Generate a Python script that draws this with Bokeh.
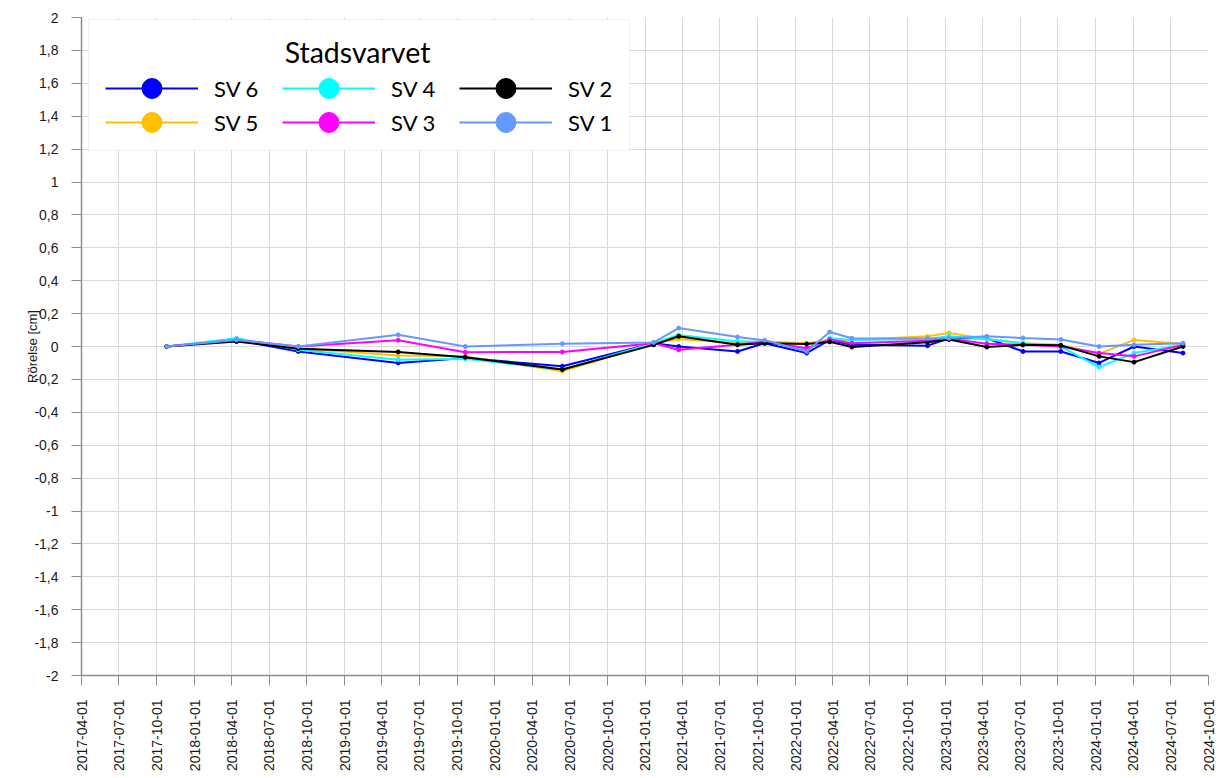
import calendar
import datetime as dt
import math

from bokeh.plotting import figure
from bokeh.models import (ColumnDataSource, Range1d, FixedTicker, DatetimeTickFormatter,
                          CustomJSTickFormatter, Legend, LegendItem, BoxAnnotation, Label)
from bokeh.embed import file_html
from bokeh.resources import INLINE

# ---------------- data ----------------
dates = ["2017-10-25", "2018-04-13", "2018-09-10", "2019-05-11", "2019-10-21",
         "2020-06-13", "2021-01-21", "2021-03-23", "2021-08-13", "2021-10-18",
         "2022-01-28", "2022-03-25", "2022-05-18", "2022-11-18", "2023-01-09",
         "2023-04-11", "2023-07-08", "2023-10-08", "2024-01-09", "2024-04-03",
         "2024-07-31"]

sv6 = [0, 0.04, -0.03, -0.10, -0.07, -0.12, 0.02, 0.00, -0.03, 0.02, -0.04,
       0.04, 0.01, 0.005, 0.05, 0.05, -0.03, -0.03, -0.10, 0.00, -0.04]
sv5 = [0, 0.04, -0.01, -0.055, -0.06, -0.15, 0.02, 0.045, 0.02, 0.03, 0.02,
       0.04, 0.04, 0.062, 0.082, 0.045, 0.02, 0.01, -0.045, 0.04, 0.015]
sv4 = [0, 0.05, -0.02, -0.08, -0.075, -0.14, 0.02, 0.07, 0.03, 0.03, -0.02,
       0.05, 0.04, 0.045, 0.062, 0.045, 0.02, 0.0, -0.125, -0.04, 0.01]
sv3 = [0, 0.04, 0.0, 0.038, -0.035, -0.033, 0.02, -0.02, 0.01, 0.03, -0.01,
       0.042, 0.02, 0.035, 0.047, 0.017, 0.01, 0.0, -0.04, -0.06, 0.01]
sv2 = [0, 0.03, -0.013, -0.033, -0.065, -0.14, 0.01, 0.062, 0.01, 0.02, 0.015,
       0.028, -0.003, 0.026, 0.042, -0.003, 0.01, 0.007, -0.06, -0.095, 0.0]
sv1 = [0, 0.04, 0.0, 0.071, 0.0, 0.017, 0.025, 0.112, 0.058, 0.038, -0.03,
       0.088, 0.05, 0.048, 0.05, 0.062, 0.052, 0.042, 0.0, 0.01, 0.02]

series_names = ["SV 6", "SV 5", "SV 4", "SV 3", "SV 2", "SV 1"]
series_values = [sv6, sv5, sv4, sv3, sv2, sv1]
series_colors = ["#0000FF", "#FFC000", "#00FFFF", "#FF00FF", "#000000", "#6699FF"]
legend_row1 = ["SV 6", "SV 4", "SV 2"]
legend_row2 = ["SV 5", "SV 3", "SV 1"]

legend_title = "Stadsvarvet"
y_label = "Rörelse [cm]"
x_start = "2017-04-01"
x_end = "2024-10-01"
y_start, y_end, y_step = -2.0, 2.0, 0.2


def to_ms(s):
    d = dt.datetime.strptime(s, "%Y-%m-%d")
    return calendar.timegm(d.timetuple()) * 1000.0


# quarterly tick dates
x_tick_labels = []
yy, mm = 2017, 4
while (yy, mm) <= (2024, 10):
    x_tick_labels.append(f"{yy:04d}-{mm:02d}-01")
    mm += 3
    if mm > 12:
        mm -= 12
        yy += 1
x_ticks = [to_ms(s) for s in x_tick_labels]
n_y = int(round((y_end - y_start) / y_step))
y_ticks = [round(y_start + i * y_step, 1) for i in range(n_y + 1)]

# ---------------- layout ----------------
W, H = 1215, 776
ML, MT = 81, 17
FR, FB = 1208, 675            # frame right / bottom (page px)
MR, MB = W - FR, H - FB
frame_w = W - ML - MR
frame_h = H - MT - MB
x0, x1 = to_ms(x_start), to_ms(x_end)


def px_x(px):
    return x0 + (px - ML) / frame_w * (x1 - x0)


def px_y(py):
    return y_end - (py - MT) / frame_h * (y_end - y_start)


p = figure(width=W, height=H, output_backend="svg", toolbar_location=None,
           x_axis_type="datetime",
           x_range=Range1d(x0, x1), y_range=Range1d(y_start, y_end),
           min_border_left=ML, min_border_right=MR, min_border_top=MT,
           min_border_bottom=MB)
p.outline_line_color = None
p.background_fill_color = "white"
p.border_fill_color = "white"

grid_col = "#d9d9d9"
p.xgrid.grid_line_color = grid_col
p.ygrid.grid_line_color = grid_col
p.xgrid.ticker = FixedTicker(ticks=x_ticks)
p.ygrid.ticker = FixedTicker(ticks=y_ticks)

tick_font = "Liberation Sans"
xa = p.xaxis[0]
xa.ticker = FixedTicker(ticks=x_ticks)
fmt = "%Y-%m-%d"
xa.formatter = DatetimeTickFormatter(microseconds=fmt, milliseconds=fmt, seconds=fmt,
                                     minsec=fmt, minutes=fmt, hourmin=fmt, hours=fmt,
                                     days=fmt, months=fmt, years=fmt)
xa.major_label_orientation = math.pi / 2
xa.major_label_text_font = tick_font
xa.major_label_text_font_size = "14px"
xa.major_label_text_color = "#1a1a1a"
xa.major_tick_out = 10
xa.major_tick_in = 0
xa.minor_tick_out = 0
xa.minor_tick_in = 0
xa.major_label_standoff = 14
xa.axis_line_color = "#8c8c8c"
xa.major_tick_line_color = "#8c8c8c"
xa.axis_line_width = 1.5

ya = p.yaxis[0]
ya.ticker = FixedTicker(ticks=y_ticks)
ya.formatter = CustomJSTickFormatter(
    code="const v = Math.round(tick*10)/10; return v.toString().replace('.', ',');")
ya.major_label_text_font = tick_font
ya.major_label_text_font_size = "14px"
ya.major_label_text_color = "#1a1a1a"
ya.major_tick_out = 10
ya.major_tick_in = 0
ya.minor_tick_out = 0
ya.minor_tick_in = 0
ya.major_label_standoff = 13
ya.axis_line_color = "#8c8c8c"
ya.major_tick_line_color = "#8c8c8c"
ya.axis_line_width = 1.5
ya.axis_label = y_label
ya.axis_label_text_font = tick_font
ya.axis_label_text_font_size = "13px"
ya.axis_label_text_font_style = "normal"
ya.axis_label_text_color = "#1a1a1a"
ya.axis_label_standoff = -9

# ---------------- series ----------------
date_objs = [dt.datetime.strptime(s, "%Y-%m-%d") for s in dates]
items = {}
for name, vals, col in zip(series_names, series_values, series_colors):
    src = ColumnDataSource(dict(x=date_objs, y=vals))
    lr = p.line("x", "y", source=src, line_color=col, line_width=2)
    sr = p.scatter("x", "y", source=src, size=4, fill_color=col, line_color=col)
    items[name] = LegendItem(label=name, renderers=[lr, sr])

# legend box + title
box = BoxAnnotation(left=px_x(88), right=px_x(629), top=px_y(19), bottom=px_y(150),
                    fill_color="white", fill_alpha=1.0, line_color="#d0d0d0",
                    line_width=1, level="annotation")
p.add_layout(box)

title = Label(x=px_x(357), y=px_y(51), text=legend_title, text_align="center",
              text_baseline="middle", text_font="Lato", text_font_size="28.5px",
              text_color="#000000")
p.add_layout(title)

GH = 50
for names, cy in ((legend_row1, 88), (legend_row2, 122)):
    lg = Legend(items=[items[n] for n in names],
                location=(105 - ML, FB - (cy + GH // 2)),
                orientation="horizontal",
                glyph_width=93, glyph_height=GH, spacing=0, label_standoff=16,
                label_width=68, padding=0, margin=0,
                border_line_color=None, background_fill_alpha=0.0,
                label_text_font="Lato", label_text_font_size="22px",
                label_text_color="#000000")
    p.add_layout(lg)

open("out.html", "w").write(file_html(p, INLINE))
